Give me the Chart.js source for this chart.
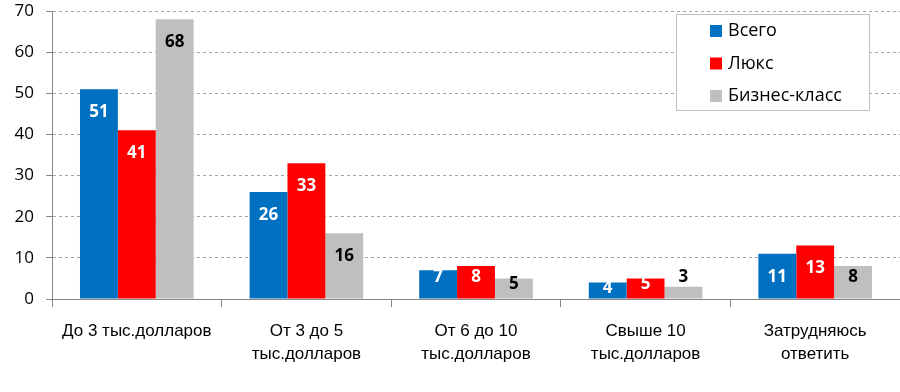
<!DOCTYPE html>
<html>
<head>
<meta charset="utf-8">
<script src="https://cdn.jsdelivr.net/npm/chart.js@4.4.1/dist/chart.umd.min.js"></script>
<style>
  html, body { margin: 0; padding: 0; background: #fff; }
  #wrap { width: 900px; height: 392px; position: relative; }
</style>
</head>
<body>
<div id="wrap"><canvas id="chart" width="900" height="392"></canvas></div>
<script>
const categories = [
    'До 3 тыс.долларов',
    ['От 3 до 5', 'тыс.долларов'],
    ['От 6 до 10', 'тыс.долларов'],
    ['Свыше 10', 'тыс.долларов'],
    ['Затрудняюсь', 'ответить']
];
const seriesNames = ['Всего', 'Люкс', 'Бизнес-класс'];
const totalValues = [51, 26, 7, 4, 11];
const luxValues = [41, 33, 8, 5, 13];
const businessValues = [68, 16, 5, 3, 8];
const yTicks = [0, 10, 20, 30, 40, 50, 60, 70];

const colors = ['#0070C0', '#FF0000', '#BFBFBF'];
const labelColors = ['#ffffff', '#ffffff', '#000000'];

const valueLabels = {
    id: 'valueLabels',
    afterDatasetsDraw(chart) {
        const ctx = chart.ctx;
        ctx.save();
        ctx.font = 'bold 17px "Open Sans", sans-serif';
        ctx.textAlign = 'center';
        ctx.textBaseline = 'middle';
        chart.data.datasets.forEach((ds, i) => {
            const meta = chart.getDatasetMeta(i);
            meta.data.forEach((bar, j) => {
                const h = bar.base - bar.y;
                let y;
                let color = labelColors[i];
                if (h < 15) {
                    y = bar.y - 10;
                    color = '#000000';
                } else {
                    y = bar.y + Math.min(23, Math.max(6, h - 21));
                }
                ctx.fillStyle = color;
                ctx.fillText(String(ds.data[j]), bar.x, y);
            });
        });
        ctx.restore();
    }
};

const boxLegend = {
    id: 'boxLegend',
    afterDraw(chart) {
        const ctx = chart.ctx;
        ctx.save();
        const x0 = 676, y0 = 14, w = 193, h = 96;
        ctx.fillStyle = '#ffffff';
        ctx.fillRect(x0, y0, w, h);
        ctx.strokeStyle = '#BFBFBF';
        ctx.lineWidth = 1;
        ctx.strokeRect(x0 + 0.5, y0 + 0.5, w, h);
        ctx.font = '18px "Open Sans", sans-serif';
        ctx.textBaseline = 'middle';
        ctx.textAlign = 'left';
        chart.data.datasets.forEach((ds, i) => {
            const cy = 31 + i * 32.5;
            ctx.fillStyle = ds.backgroundColor;
            ctx.fillRect(710, cy - 6, 12, 12);
            ctx.fillStyle = '#000000';
            ctx.fillText(ds.label, 728, cy);
        });
        ctx.restore();
    }
};

const series = [totalValues, luxValues, businessValues];

new Chart(document.getElementById('chart'), {
    type: 'bar',
    data: {
        labels: categories,
        datasets: series.map((vals, i) => ({
            label: seriesNames[i],
            data: vals,
            backgroundColor: colors[i],
            borderWidth: 0,
            barPercentage: 1,
            categoryPercentage: 0.67
        }))
    },
    options: {
        responsive: false,
        animation: false,
        devicePixelRatio: 1,
        layout: { padding: 0 },
        plugins: {
            legend: { display: false },
            tooltip: { enabled: false }
        },
        scales: {
            x: {
                offset: true,
                grid: {
                    display: true,
                    offset: true,
                    drawOnChartArea: false,
                    drawTicks: true,
                    tickLength: 8,
                    color: '#868686'
                },
                border: { display: true, color: '#868686', width: 1 },
                ticks: {
                    color: '#000000',
                    font: { family: '"Liberation Sans", Arial, sans-serif', size: 17, lineHeight: 1.4 },
                    padding: 12,
                    maxRotation: 0,
                    autoSkip: false
                },
                afterFit(scale) {
                    scale.height = 93;
                    scale.paddingLeft = 0;
                    scale.paddingRight = 0;
                }
            },
            y: {
                min: 0,
                max: 70,
                afterBuildTicks(scale) { scale.ticks = yTicks.map(v => ({ value: v })); },
                grid: {
                    color: '#A6A6A6',
                    tickColor: '#868686',
                    tickLength: 6,
                    drawTicks: true
                },
                border: { display: true, color: '#868686', width: 1, dash: [3, 3] },
                ticks: {
                    color: '#000000',
                    font: { family: '"Open Sans", sans-serif', size: 17 },
                    padding: 12
                },
                afterFit(scale) {
                    scale.width = 52;
                    scale.paddingTop = 11;
                    scale.paddingBottom = 0;
                }
            }
        }
    },
    plugins: [valueLabels, boxLegend]
});
</script>
</body>
</html>
